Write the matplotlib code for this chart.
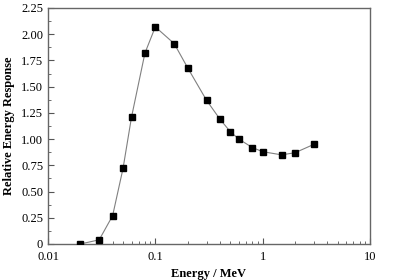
import matplotlib
matplotlib.use("Agg")
import matplotlib.pyplot as plt
from matplotlib.ticker import FixedLocator, MultipleLocator, LogLocator, NullFormatter

energy = [0.02, 0.03, 0.04, 0.05, 0.06, 0.08, 0.1, 0.15, 0.2, 0.3, 0.4, 0.5, 0.6, 0.8, 1.0, 1.5, 2.0, 3.0]
response = [0.0, 0.04, 0.27, 0.72, 1.21, 1.82, 2.07, 1.91, 1.68, 1.37, 1.19, 1.07, 1.00, 0.92, 0.88, 0.85, 0.87, 0.95]
xticks = [0.01, 0.1, 1, 10]
xticklabels = ["0.01", "0.1", "1", "10"]
yticks = [0, 0.25, 0.5, 0.75, 1.0, 1.25, 1.5, 1.75, 2.0, 2.25]
yticklabels = ["0", "0.25", "0.50", "0.75", "1.00", "1.25", "1.50", "1.75", "2.00", "2.25"]

plt.rcParams['font.family'] = ['Liberation Serif', 'DejaVu Serif']
fig = plt.figure(figsize=(4.06, 2.80), dpi=100)
ax = fig.add_axes([48/406, 1 - 244/280, (370-48)/406, (244-8)/280])
ax.plot(energy, response, color='#808080', lw=0.8, marker='s', ms=3.8,
        mfc='black', mec='black', zorder=3)
ax.set_xscale('log')
ax.set_xlim(0.01, 10)
ax.set_ylim(0, 2.25)
ax.xaxis.set_major_locator(FixedLocator(xticks))
ax.set_xticklabels(xticklabels)
ax.xaxis.set_minor_locator(LogLocator(base=10, subs=range(2, 10)))
ax.xaxis.set_minor_formatter(NullFormatter())
ax.yaxis.set_major_locator(FixedLocator(yticks))
ax.set_yticklabels(yticklabels)
ax.yaxis.set_minor_locator(MultipleLocator(0.125))
ax.tick_params(which='both', direction='in', labelsize=9, color='#555555')
ax.tick_params(which='major', length=4, width=0.8)
ax.tick_params(axis='x', which='major', pad=5)
ax.tick_params(which='minor', length=2.5, width=0.6)
for s in ax.spines.values():
    s.set_color('#666666')
    s.set_linewidth(1.0)
ax.set_xlabel('Energy / MeV', fontsize=9, fontweight='bold', labelpad=4)
ax.set_ylabel('Relative Energy Response', fontsize=9, fontweight='bold', labelpad=4)
fig.savefig('out.png', dpi=100)
